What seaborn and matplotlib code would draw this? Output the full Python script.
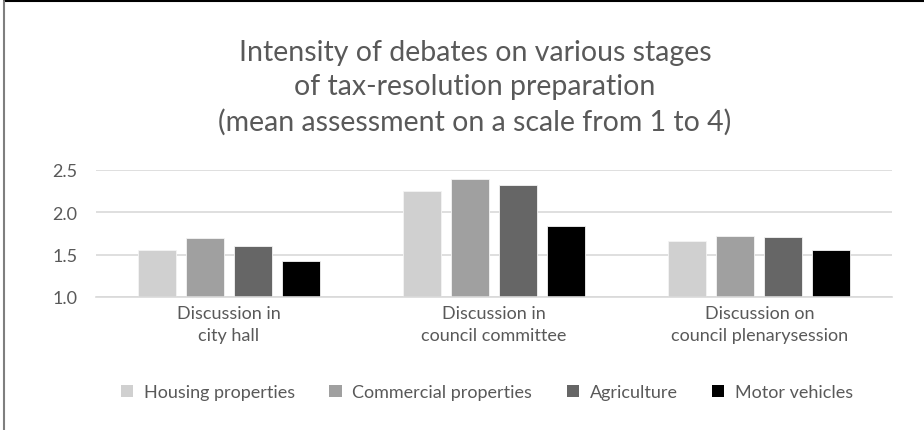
import matplotlib
matplotlib.use("Agg")
import matplotlib.pyplot as plt
import seaborn as sns
import pandas as pd
from matplotlib.patches import Patch
from matplotlib.lines import Line2D

stages = ["Discussion in\ncity hall", "Discussion in\ncouncil committee", "Discussion on\ncouncil plenarysession"]
series = ["Housing properties", "Commercial properties", "Agriculture", "Motor vehicles"]
housing = [1.56, 2.25, 1.66]
commercial = [1.70, 2.39, 1.72]
agriculture = [1.60, 2.32, 1.71]
motor = [1.43, 1.84, 1.56]
colors = ["#D0D0D0", "#A0A0A0", "#666666", "#000000"]
title = "Intensity of debates on various stages\nof tax-resolution preparation\n(mean assessment on a scale from 1 to 4)"

rows = []
for name, vals in zip(series, [housing, commercial, agriculture, motor]):
    for s, v in zip(stages, vals):
        rows.append({"stage": s, "series": name, "value": v})
df = pd.DataFrame(rows)

sns.set_theme(style="white")
plt.rcParams['font.family'] = ['Lato', 'DejaVu Sans']
txt = "#595959"

fig = plt.figure(figsize=(9.24, 4.31), dpi=100)
ax = fig.add_axes([96/924, 1-298/431, 796/924, 127/431])

sns.barplot(data=df, x="stage", y="value", hue="series", hue_order=series,
            palette=colors, width=0.724, gap=0.21, ax=ax, legend=False,
            edgecolor="#f4f4f4", linewidth=0.6)

ax.set_ylim(1.0, 2.5)
ax.set_yticks([1.0, 1.5, 2.0, 2.5])
ax.set_yticklabels(["1.0", "1.5", "2.0", "2.5"])
ax.set_xlim(-0.5, 2.5)
ax.yaxis.grid(True, color="#D9D9D9", linewidth=1.2)
ax.set_axisbelow(True)
for sp in ["top", "right", "left"]:
    ax.spines[sp].set_visible(False)
ax.spines["bottom"].set_color("#D9D9D9")
ax.spines["bottom"].set_linewidth(1.2)
ax.tick_params(axis="both", length=0, colors=txt, labelsize=13)
ax.tick_params(axis="y", pad=13.5)
ax.tick_params(axis="x", pad=6)
ax.set_xlabel("")
ax.set_ylabel("")
for lab in ax.get_xticklabels():
    lab.set_linespacing(1.45)

fig.text(475/924, 1-88/431, title, ha="center", va="center", fontsize=20.5,
         color=txt, linespacing=1.4)

handles = [Patch(facecolor=c, edgecolor="none") for c in colors]
fig.legend(handles, series, loc="center", bbox_to_anchor=(487/924, 1-393/431),
           ncol=4, frameon=False, fontsize=13, labelcolor=txt,
           handlelength=0.67, handleheight=0.67, handletextpad=0.6,
           columnspacing=1.9)

# chart border
fig.add_artist(Line2D([4/924, 1], [1-1.5/431, 1-1.5/431], transform=fig.transFigure,
                      color="#000000", linewidth=1.5))
fig.add_artist(Line2D([4/924, 4/924], [0, 1-1.5/431], transform=fig.transFigure,
                      color="#7f7f7f", linewidth=1.5))

fig.savefig("out.png", dpi=100)
